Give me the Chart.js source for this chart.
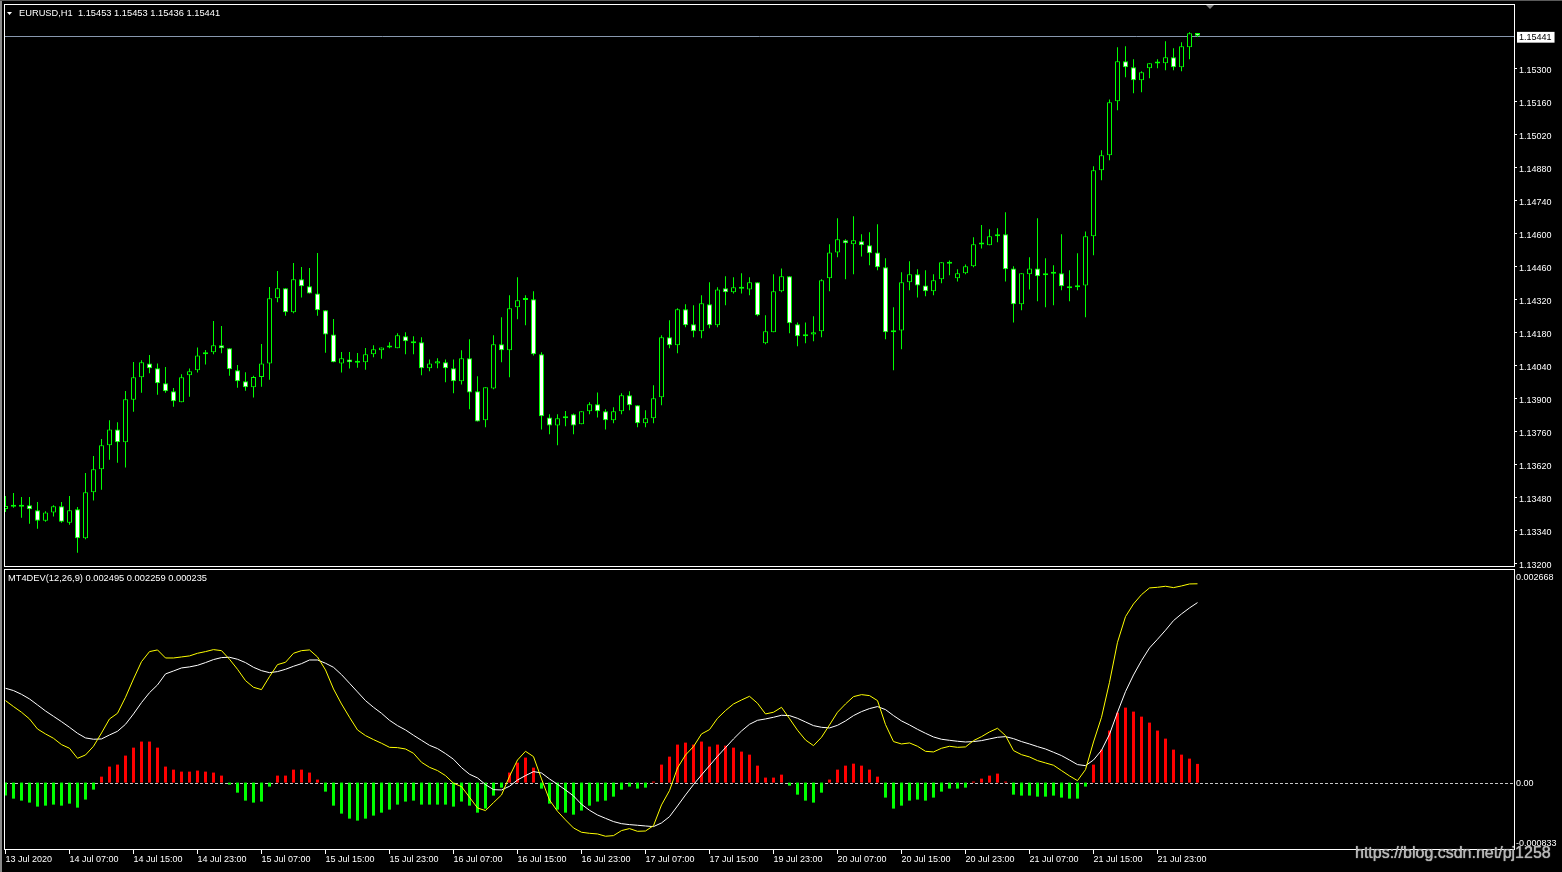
<!DOCTYPE html>
<html>
<head>
<meta charset="utf-8">
<title>EURUSD,H1</title>
<script src="https://cdn.jsdelivr.net/npm/chart.js@4.4.1/dist/chart.umd.min.js"></script>
<style>
html,body{margin:0;padding:0;background:#000;}
body{width:1562px;height:872px;position:relative;overflow:hidden;}
canvas{position:absolute;left:0;}
#price{top:0;}
#macd{top:568px;}
#edgeL{position:absolute;left:0;top:0;width:2px;height:872px;background:#8a8a8a;}
#edgeT{position:absolute;left:0;top:0;width:1562px;height:1px;background:#5a5a5a;}
#wm{position:absolute;left:1355px;top:844px;font:16px 'Liberation Sans',Arial,sans-serif;color:#b4b4b4;white-space:nowrap;text-shadow:0 0 1px #eee;}
</style>
</head>
<body>
<canvas id="price" width="1562" height="568"></canvas>
<canvas id="macd" width="1562" height="304"></canvas>
<div id="edgeL"></div><div id="edgeT"></div>
<div id="wm">https://blog.csdn.net/pj1258</div>
<script>
// EURUSD H1, 150 bars, oldest first
const symbol = "EURUSD";
const period = "H1";

const opens = [
1.13433,1.13444,1.13443,1.13449,1.13428,1.13384,1.13419,1.13445,1.13375,1.13432,
1.13309,1.13504,1.13602,1.13704,1.13771,1.13716,1.13897,1.13992,1.14051,1.14030,
1.13967,1.13933,1.13886,1.14001,1.14022,1.14090,1.14098,1.14128,1.14115,1.14022,
1.13975,1.13950,1.13993,1.14051,1.14327,1.14370,1.14268,1.14408,1.14378,1.14348,
1.14276,1.14174,1.14051,1.14068,1.14055,1.14056,1.14090,1.14107,1.14119,1.14115,
1.14166,1.14145,1.14141,1.14030,1.14051,1.14056,1.14030,1.13975,1.14073,1.13933,
1.13810,1.13945,1.14132,1.14107,1.14289,1.14320,1.14323,1.14090,1.13822,1.13788,
1.13818,1.13835,1.13793,1.13848,1.13878,1.13848,1.13810,1.13848,1.13916,1.13873,
1.13797,1.13818,1.13907,1.14162,1.14128,1.14281,1.14217,1.14187,1.14302,1.14213,
1.14370,1.14353,1.14369,1.14365,1.14395,1.14136,1.14183,1.14357,1.14421,1.14217,
1.14166,1.14174,1.14187,1.14412,1.14522,1.14573,1.14556,1.14569,1.14552,1.14522,
1.14459,1.14183,1.14191,1.14395,1.14429,1.14382,1.14357,1.14408,1.14475,1.14412,
1.14433,1.14463,1.14556,1.14552,1.14590,1.14599,1.14454,1.14302,1.14429,1.14454,
1.14433,1.14431,1.14433,1.14378,1.14374,1.14382,1.14590,1.14870,1.14934,1.15163,
1.15333,1.15307,1.15252,1.15303,1.15324,1.15324,1.15350,1.15307,1.15392,1.15453];

const highs = [
1.13488,1.13501,1.13484,1.13484,1.13463,1.13424,1.13449,1.13463,1.13488,1.13442,
1.13586,1.13658,1.13730,1.13810,1.13801,1.13934,1.14057,1.14064,1.14087,1.14051,
1.14036,1.13947,1.14005,1.14029,1.14119,1.14108,1.14231,1.14210,1.14115,1.14044,
1.14013,1.13999,1.14133,1.14375,1.14443,1.14370,1.14477,1.14460,1.14456,1.14519,
1.14276,1.14239,1.14099,1.14099,1.14095,1.14116,1.14128,1.14119,1.14141,1.14179,
1.14183,1.14166,1.14162,1.14068,1.14073,1.14068,1.14068,1.14107,1.14153,1.13996,
1.13950,1.14170,1.14247,1.14340,1.14416,1.14340,1.14357,1.14098,1.13835,1.13835,
1.13849,1.13839,1.13848,1.13886,1.13928,1.13856,1.13865,1.13924,1.13933,1.13873,
1.13852,1.13958,1.14170,1.14234,1.14285,1.14302,1.14298,1.14340,1.14395,1.14374,
1.14421,1.14416,1.14433,1.14416,1.14395,1.14255,1.14429,1.14454,1.14421,1.14225,
1.14225,1.14251,1.14408,1.14556,1.14667,1.14578,1.14675,1.14599,1.14607,1.14641,
1.14497,1.14289,1.14438,1.14484,1.14450,1.14446,1.14429,1.14480,1.14488,1.14450,
1.14471,1.14586,1.14638,1.14620,1.14624,1.14692,1.14463,1.14433,1.14501,1.14667,
1.14497,1.14467,1.14599,1.14446,1.14518,1.14611,1.14887,1.14955,1.15171,1.15392,
1.15396,1.15341,1.15290,1.15324,1.15341,1.15418,1.15388,1.15413,1.15456,1.15453];

const lows = [
1.13421,1.13439,1.13396,1.13371,1.13350,1.13379,1.13401,1.13375,1.13367,1.13248,
1.13305,1.13469,1.13515,1.13642,1.13630,1.13609,1.13846,1.13927,1.14009,1.13918,
1.13927,1.13867,1.13886,1.13910,1.14012,1.14046,1.14090,1.14094,1.13999,1.13948,
1.13935,1.13906,1.13952,1.13982,1.14310,1.14253,1.14264,1.14331,1.14348,1.14253,
1.14096,1.14056,1.14012,1.14029,1.14033,1.14024,1.14077,1.14071,1.14115,1.14115,
1.14090,1.14090,1.14001,1.14018,1.14030,1.13971,1.13924,1.13962,1.13856,1.13805,
1.13780,1.13941,1.14056,1.13992,1.14238,1.14213,1.14085,1.13771,1.13750,1.13704,
1.13784,1.13750,1.13793,1.13835,1.13822,1.13771,1.13797,1.13835,1.13852,1.13780,
1.13780,1.13797,1.13873,1.14115,1.14094,1.14204,1.14162,1.14158,1.14200,1.14204,
1.14298,1.14348,1.14348,1.14340,1.14251,1.14132,1.14183,1.14353,1.14179,1.14124,
1.14136,1.14145,1.14162,1.14357,1.14501,1.14408,1.14429,1.14505,1.14467,1.14446,
1.14153,1.14022,1.14111,1.14361,1.14331,1.14336,1.14340,1.14391,1.14425,1.14399,
1.14429,1.14459,1.14539,1.14552,1.14565,1.14399,1.14225,1.14276,1.14365,1.14315,
1.14289,1.14298,1.14361,1.14315,1.14361,1.14247,1.14510,1.14828,1.14913,1.15125,
1.15265,1.15197,1.15201,1.15261,1.15303,1.15295,1.15295,1.15290,1.15341,1.15436];

const closes = [
1.13446,1.13443,1.13444,1.13432,1.13384,1.13419,1.13445,1.13379,1.13428,1.13309,
1.13504,1.13602,1.13704,1.13771,1.13716,1.13899,1.13992,1.14056,1.14030,1.13967,
1.13933,1.13890,1.13992,1.14018,1.14085,1.14098,1.14128,1.14115,1.14026,1.13975,
1.13950,1.13993,1.14051,1.14327,1.14370,1.14268,1.14408,1.14378,1.14348,1.14276,
1.14174,1.14056,1.14073,1.14056,1.14054,1.14090,1.14111,1.14119,1.14120,1.14170,
1.14145,1.14136,1.14030,1.14051,1.14060,1.14030,1.13975,1.14073,1.13928,1.13805,
1.13950,1.14132,1.14107,1.14285,1.14319,1.14321,1.14090,1.13827,1.13788,1.13818,
1.13819,1.13788,1.13848,1.13878,1.13848,1.13810,1.13848,1.13916,1.13873,1.13797,
1.13818,1.13903,1.14162,1.14128,1.14281,1.14213,1.14187,1.14306,1.14213,1.14365,
1.14353,1.14374,1.14368,1.14395,1.14255,1.14187,1.14357,1.14421,1.14221,1.14166,
1.14174,1.14183,1.14404,1.14522,1.14578,1.14561,1.14573,1.14552,1.14518,1.14459,
1.14183,1.14191,1.14395,1.14429,1.14382,1.14357,1.14404,1.14480,1.14474,1.14433,
1.14463,1.14556,1.14555,1.14590,1.14599,1.14450,1.14302,1.14433,1.14454,1.14421,
1.14425,1.14432,1.14378,1.14370,1.14382,1.14590,1.14870,1.14934,1.15159,1.15333,
1.15307,1.15252,1.15286,1.15324,1.15323,1.15350,1.15307,1.15396,1.15452,1.15441];

// MT4DEV(12,26,9): yellow line, white line, histogram
const macdLine = [
0.001029,0.000954,0.000883,0.000799,0.000673,0.000611,0.000556,0.000477,0.000431,0.000305,
0.000347,0.000456,0.000623,0.000799,0.000870,0.001071,0.001301,0.001518,0.001644,0.001665,
0.001564,0.001564,0.001577,0.001590,0.001623,0.001644,0.001669,0.001656,0.001548,0.001422,
0.001280,0.001196,0.001167,0.001330,0.001481,0.001510,0.001623,0.001656,0.001665,0.001577,
0.001414,0.001175,0.000987,0.000820,0.000661,0.000590,0.000540,0.000494,0.000443,0.000439,
0.000422,0.000368,0.000255,0.000192,0.000151,0.000088,-0.000008,-0.000050,-0.000184,-0.000318,
-0.000351,-0.000251,-0.000155,0.000079,0.000284,0.000393,0.000326,0.000046,-0.000218,-0.000360,
-0.000468,-0.000569,-0.000623,-0.000636,-0.000644,-0.000673,-0.000665,-0.000602,-0.000577,-0.000611,
-0.000607,-0.000540,-0.000280,-0.000100,0.000184,0.000347,0.000452,0.000611,0.000665,0.000807,
0.000904,0.000987,0.001037,0.001083,0.000996,0.000862,0.000883,0.000945,0.000803,0.000657,
0.000535,0.000464,0.000569,0.000724,0.000883,0.000987,0.001079,0.001104,0.001092,0.001029,
0.000728,0.000515,0.000485,0.000498,0.000456,0.000393,0.000385,0.000431,0.000456,0.000443,
0.000448,0.000527,0.000577,0.000636,0.000682,0.000590,0.000402,0.000351,0.000322,0.000276,
0.000247,0.000218,0.000151,0.000084,0.000025,0.000163,0.000510,0.000820,0.001259,0.001761,
0.002083,0.002242,0.002359,0.002443,0.002451,0.002464,0.002447,0.002468,0.002493,0.002495];

const signalLine = [
0.001184,0.001155,0.001108,0.001050,0.000975,0.000899,0.000832,0.000765,0.000694,0.000619,
0.000561,0.000544,0.000548,0.000598,0.000644,0.000732,0.000862,0.001004,0.001129,0.001226,
0.001364,0.001401,0.001439,0.001452,0.001472,0.001506,0.001544,0.001569,0.001573,0.001548,
0.001506,0.001447,0.001405,0.001380,0.001393,0.001422,0.001460,0.001493,0.001539,0.001539,
0.001498,0.001447,0.001355,0.001247,0.001138,0.001029,0.000945,0.000870,0.000782,0.000715,
0.000661,0.000594,0.000531,0.000468,0.000427,0.000364,0.000293,0.000188,0.000105,0.000059,
-0.000025,-0.000088,-0.000092,-0.000046,0.000033,0.000088,0.000138,0.000121,0.000046,-0.000021,
-0.000092,-0.000167,-0.000272,-0.000347,-0.000406,-0.000448,-0.000489,-0.000515,-0.000527,-0.000535,
-0.000544,-0.000552,-0.000506,-0.000427,-0.000293,-0.000155,-0.000025,0.000096,0.000213,0.000330,
0.000439,0.000548,0.000648,0.000732,0.000782,0.000799,0.000820,0.000845,0.000841,0.000807,
0.000761,0.000715,0.000694,0.000686,0.000719,0.000774,0.000841,0.000891,0.000929,0.000954,
0.000916,0.000841,0.000774,0.000724,0.000669,0.000619,0.000573,0.000544,0.000531,0.000519,
0.000510,0.000515,0.000527,0.000548,0.000569,0.000577,0.000552,0.000515,0.000485,0.000452,
0.000422,0.000381,0.000339,0.000284,0.000226,0.000213,0.000284,0.000406,0.000607,0.000883,
0.001142,0.001351,0.001531,0.001690,0.001799,0.001912,0.002033,0.002117,0.002192,0.002259];

const histogram = [
-0.000163,-0.000201,-0.000226,-0.000251,-0.000301,-0.000289,-0.000276,-0.000289,-0.000264,-0.000314,
-0.000213,-0.000088,0.000075,0.000201,0.000226,0.000339,0.000439,0.000515,0.000515,0.000439,
0.000201,0.000163,0.000138,0.000138,0.000151,0.000138,0.000126,0.000088,-0.000025,-0.000126,
-0.000226,-0.000251,-0.000238,-0.000050,0.000088,0.000088,0.000163,0.000163,0.000126,0.000038,
-0.000113,-0.000289,-0.000389,-0.000452,-0.000477,-0.000452,-0.000414,-0.000377,-0.000339,-0.000276,
-0.000238,-0.000226,-0.000276,-0.000276,-0.000276,-0.000276,-0.000301,-0.000238,-0.000289,-0.000377,
-0.000326,-0.000163,-0.000063,0.000126,0.000251,0.000314,0.000188,-0.000075,-0.000264,-0.000339,
-0.000377,-0.000402,-0.000351,-0.000289,-0.000238,-0.000226,-0.000176,-0.000088,-0.000050,-0.000075,
-0.000063,0.000013,0.000226,0.000326,0.000477,0.000502,0.000477,0.000515,0.000452,0.000477,
0.000464,0.000439,0.000389,0.000351,0.000213,0.000063,0.000063,0.000100,-0.000038,-0.000151,
-0.000226,-0.000251,-0.000126,0.000038,0.000163,0.000213,0.000238,0.000213,0.000163,0.000075,
-0.000188,-0.000326,-0.000289,-0.000226,-0.000213,-0.000226,-0.000188,-0.000113,-0.000075,-0.000075,
-0.000063,0.000013,0.000050,0.000088,0.000113,0.000013,-0.000151,-0.000163,-0.000163,-0.000176,
-0.000176,-0.000163,-0.000188,-0.000201,-0.000201,-0.000050,0.000226,0.000414,0.000653,0.000879,
0.000941,0.000891,0.000828,0.000753,0.000653,0.000552,0.000414,0.000351,0.000301,0.000235];

const timeTickBars = [0,8,16,24,32,40,48,56,64,72,80,88,96,104,112,120,128,136,144];
const timeLabels = ["13 Jul 2020","14 Jul 07:00","14 Jul 15:00","14 Jul 23:00","15 Jul 07:00","15 Jul 15:00",
  "15 Jul 23:00","16 Jul 07:00","16 Jul 15:00","16 Jul 23:00","17 Jul 07:00","17 Jul 15:00",
  "19 Jul 23:00","20 Jul 07:00","20 Jul 15:00","20 Jul 23:00","21 Jul 07:00","21 Jul 15:00","21 Jul 23:00"];
const priceTickLabels = ["1.13200","1.13340","1.13480","1.13620","1.13760","1.13900","1.14040","1.14180",
  "1.14320","1.14460","1.14600","1.14740","1.14880","1.15020","1.15160","1.15300"];
const macdAxisLabels = ["-0.000833","0.00","0.002668"];

const FONT = "'Liberation Sans', Arial, sans-serif";
const GREEN = "#00ff00";
const lastPrice = closes[closes.length-1];
const xRange = {min:-0.0625, max:188.5625};

Chart.defaults.font.family = FONT;
Chart.defaults.font.size = 9;
Chart.defaults.color = "#ffffff";

const candleBody = opens.map((o,i)=>({x:i, y:[Math.min(o,closes[i]), Math.max(o,closes[i])]}));
const candleWick = highs.map((h,i)=>({x:i, y:[lows[i], h]}));
const isLastTick = (ctx)=>ctx.tick && ctx.tick.value===lastPrice;

const priceDecor = {
    id: "priceDecor",
    beforeDatasetsDraw(chart){
        const {ctx, chartArea:a, scales:{y}} = chart;
        const py = Math.round(y.getPixelForValue(lastPrice))+0.5;
        ctx.save();
        ctx.strokeStyle = "#8898ae";
        ctx.lineWidth = 1;
        ctx.beginPath(); ctx.moveTo(a.left, py); ctx.lineTo(a.right, py); ctx.stroke();
        ctx.restore();
    },
    afterDraw(chart){
        const {ctx, chartArea:a} = chart;
        ctx.save();
        ctx.strokeStyle = "#ffffff";
        ctx.lineWidth = 1;
        ctx.strokeRect(a.left-0.5, a.top-0.5, a.right-a.left+1, a.bottom-a.top+1);
        ctx.fillStyle = "#ffffff";
        ctx.beginPath(); ctx.moveTo(7,12); ctx.lineTo(12,12); ctx.lineTo(9.5,15); ctx.closePath(); ctx.fill();
        ctx.font = "9.3px "+FONT;
        ctx.textBaseline = "middle";
        let n = closes.length-1;
        let head = `${symbol},${period}  ${opens[n].toFixed(5)} ${highs[n].toFixed(5)} ${lows[n].toFixed(5)} ${closes[n].toFixed(5)}`;
        ctx.fillText(head, 19, 13.5);
        ctx.fillStyle = "#808080";
        ctx.beginPath(); ctx.moveTo(1206,5); ctx.lineTo(1214,5); ctx.lineTo(1210,9); ctx.closePath(); ctx.fill();
        ctx.restore();
    }
};

const macdDecor = {
    id: "macdDecor",
    beforeDatasetsDraw(chart){
        const {ctx, chartArea:a, scales:{y}} = chart;
        const zy = Math.round(y.getPixelForValue(0))+0.5;
        ctx.save();
        ctx.strokeStyle = "#c8c8c8";
        ctx.lineWidth = 1;
        ctx.setLineDash([3,2]);
        ctx.beginPath(); ctx.moveTo(a.left, zy); ctx.lineTo(a.right, zy); ctx.stroke();
        ctx.restore();
    },
    afterDraw(chart){
        const {ctx, chartArea:a} = chart;
        ctx.save();
        ctx.strokeStyle = "#ffffff";
        ctx.lineWidth = 1;
        ctx.strokeRect(a.left-0.5, a.top-0.5, a.right-a.left+1, a.bottom-a.top+1);
        ctx.fillStyle = "#ffffff";
        ctx.font = "9.3px "+FONT;
        ctx.textBaseline = "middle";
        let n = histogram.length-1;
        ctx.fillText(`MT4DEV(12,26,9) ${macdLine[n].toFixed(6)} ${signalLine[n].toFixed(6)} ${histogram[n].toFixed(6)}`, 8, 10.5);
        ctx.restore();
    }
};

new Chart(document.getElementById("price"), {
    type: "bar",
    data: {
        datasets: [
            {
                label: "body", data: candleBody, order: 1, grouped: false,
                barThickness: 5, minBarLength: 2, inflateAmount: 0,
                borderWidth: 1, borderColor: GREEN, borderSkipped: false,
                backgroundColor: (ctx)=>(closes[ctx.dataIndex]>=opens[ctx.dataIndex]?"#000000":"#ffffff"),
            },
            {
                label: "wick", data: candleWick, order: 2, grouped: false,
                barThickness: 1, inflateAmount: 0, borderWidth: 0, backgroundColor: GREEN,
            },
        ],
    },
    options: {
        responsive: false, animation: false, devicePixelRatio: 1, events: [],
        layout: {padding: {left: 5, top: 5, right: 0, bottom: 2}},
        plugins: {legend: {display: false}, tooltip: {enabled: false}},
        scales: {
            x: {type: "linear", min: xRange.min, max: xRange.max, offset: false, display: false, grid: {offset: false}},
            y: {
                position: "right", min: 1.131915, max: 1.155715,
                afterBuildTicks: (s)=>{ s.ticks = priceTickLabels.map(t=>({value: parseFloat(t)})).concat([{value: lastPrice}]); },
                afterFit: (s)=>{ s.width = 48; s.paddingTop = 0; s.paddingBottom = 0; },
                grid: {display: true, drawOnChartArea: false, tickLength: 3, color: "#ffffff",
                       tickColor: (ctx)=>(isLastTick(ctx)?"rgba(0,0,0,0)":"#ffffff")},
                border: {display: false},
                ticks: {
                    padding: 2, labelOffset: 1.5,
                    callback: (v, i)=>(i<priceTickLabels.length?priceTickLabels[i]:lastPrice.toFixed(5)),
                    color: (ctx)=>(isLastTick(ctx)?"#000000":"#ffffff"),
                    showLabelBackdrop: (ctx)=>isLastTick(ctx),
                    backdropColor: "#ffffff",
                    backdropPadding: {top: 0, bottom: 0, left: 2, right: 3},
                },
            },
        },
    },
    plugins: [priceDecor],
});

new Chart(document.getElementById("macd"), {
    type: "bar",
    data: {
        datasets: [
            {type: "line", label: "main", data: macdLine.map((v,i)=>({x:i, y:v})), order: 1,
             borderColor: "#ffff00", borderWidth: 1, pointRadius: 0, tension: 0, fill: false},
            {type: "line", label: "signal", data: signalLine.map((v,i)=>({x:i, y:v})), order: 2,
             borderColor: "#ffffff", borderWidth: 1, pointRadius: 0, tension: 0, fill: false},
            {type: "bar", label: "hist", data: histogram.map((v,i)=>({x:i, y:v})), order: 3, grouped: false,
             barThickness: 3, inflateAmount: 0, borderWidth: 0,
             backgroundColor: (ctx)=>(ctx.raw && ctx.raw.y>=0?"#ff0000":"#00ff00")},
        ],
    },
    options: {
        responsive: false, animation: false, devicePixelRatio: 1, events: [],
        layout: {padding: {left: 5, top: 2, right: 0, bottom: 0}},
        plugins: {legend: {display: false}, tooltip: {enabled: false}},
        scales: {
            x: {
                type: "linear", position: "bottom", min: xRange.min, max: xRange.max, offset: false,
                afterBuildTicks: (s)=>{ s.ticks = timeTickBars.map(v=>({value: v})); },
                afterFit: (s)=>{ s.height = 23; s.paddingLeft = 0; s.paddingRight = 0; },
                grid: {display: true, offset: false, drawOnChartArea: false, tickLength: 5, color: "#ffffff"},
                border: {display: false},
                ticks: {align: "start", maxRotation: 0, minRotation: 0, autoSkip: false, padding: 0,
                        callback: (v, i)=>timeLabels[i]},
            },
            y: {
                position: "right", min: -0.000833, max: 0.002668,
                afterBuildTicks: (s)=>{
                    let r = s.max - s.min;
                    s.ticks = [{value: s.min + r*0.022}, {value: 0}, {value: s.max - r*0.025}];
                },
                afterFit: (s)=>{ s.width = 48; s.paddingTop = 0; s.paddingBottom = 0; },
                grid: {display: false, drawTicks: false},
                border: {display: false},
                ticks: {padding: 2, labelOffset: 1, callback: (v, i)=>macdAxisLabels[i]},
            },
        },
    },
    plugins: [macdDecor],
});
</script>
</body>
</html>
